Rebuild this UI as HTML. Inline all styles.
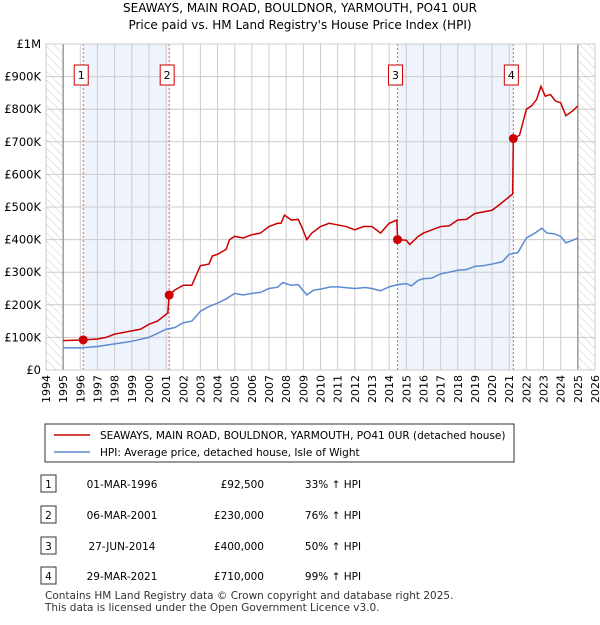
<!DOCTYPE html>
<html><head><meta charset="utf-8"><style>
body{margin:0;background:#fff;font-family:"Liberation Sans","DejaVu Sans",sans-serif;}
svg text{font-family:"DejaVu Sans","Liberation Sans",sans-serif;}
</style></head><body>
<svg id="c" width="600" height="620" xmlns="http://www.w3.org/2000/svg">
<defs><pattern id="hatch" width="6" height="6" patternUnits="userSpaceOnUse" patternTransform="rotate(-45)"><line x1="0" y1="0" x2="0" y2="6" stroke="#ccc" stroke-width="1"/></pattern></defs>
<text x="300" y="12" text-anchor="middle" font-size="12">SEAWAYS, MAIN ROAD, BOULDNOR, YARMOUTH, PO41 0UR</text>
<text x="300" y="29" text-anchor="middle" font-size="12">Price paid vs. HM Land Registry's House Price Index (HPI)</text>
<g id="plot"></g>
<g>
<rect x="45" y="424" width="469" height="38" fill="#fff" stroke="#333"/>
<line x1="54" y1="435" x2="90" y2="435" stroke="#cc0000" stroke-width="1.5"/>
<text x="100" y="439" font-size="10.5">SEAWAYS, MAIN ROAD, BOULDNOR, YARMOUTH, PO41 0UR (detached house)</text>
<line x1="54" y1="452" x2="90" y2="452" stroke="#5b8bd0" stroke-width="1.5"/>
<text x="100" y="456" font-size="10.5">HPI: Average price, detached house, Isle of Wight</text>
</g>
<g id="table" font-size="10.5"></g>
<text x="45" y="599" font-size="10.5" fill="#333">Contains HM Land Registry data © Crown copyright and database right 2025.</text>
<text x="45" y="611" font-size="10.5" fill="#333">This data is licensed under the Open Government Licence v3.0.</text>
</svg>
<script>
const yearTicks=[1994,1995,1996,1997,1998,1999,2000,2001,2002,2003,2004,2005,2006,2007,2008,2009,2010,2011,2012,2013,2014,2015,2016,2017,2018,2019,2020,2021,2022,2023,2024,2025,2026];
const priceTicks=[0,100,200,300,400,500,600,700,800,900,1000];
const priceTickLabels=["£0","£100K","£200K","£300K","£400K","£500K","£600K","£700K","£800K","£900K","£1M"];
const hpiT=[1995,1996,1997,1998,1999,2000,2001,2001.5,2002,2002.5,2003,2003.5,2004,2004.5,2005,2005.5,2006,2006.5,2007,2007.5,2007.8,2008.3,2008.7,2009.2,2009.6,2010,2010.6,2011,2011.6,2012,2012.6,2013,2013.5,2014,2014.5,2015,2015.3,2015.7,2016,2016.5,2017,2017.5,2018,2018.5,2019,2019.5,2020,2020.6,2021,2021.5,2022,2022.5,2022.9,2023.2,2023.6,2024,2024.3,2024.7,2025];
const hpiV=[68,68,72,80,88,100,125,130,145,150,180,195,205,218,235,230,235,238,250,254,268,260,262,230,245,248,255,255,252,250,253,250,243,255,262,265,258,275,280,282,295,300,306,308,318,320,325,332,355,360,405,420,435,420,418,410,390,398,405];
const priceT=[1995,1996.17,1997,1997.5,1998,1999,1999.5,2000,2000.5,2001.1,2001.18,2001.5,2002,2002.5,2003,2003.5,2003.7,2004,2004.5,2004.7,2005,2005.5,2006,2006.5,2007,2007.5,2007.7,2007.9,2008.3,2008.7,2008.9,2009.2,2009.5,2010,2010.5,2011,2011.5,2012,2012.5,2013,2013.5,2014,2014.45,2014.49,2015,2015.2,2015.7,2016,2016.5,2017,2017.5,2018,2018.5,2019,2019.5,2020,2020.5,2021.2,2021.24,2021.6,2022,2022.3,2022.6,2022.85,2023.1,2023.4,2023.7,2024,2024.3,2024.7,2025];
const priceV=[90,92.5,95,100,110,120,125,140,150,175,230,245,260,260,320,325,350,355,370,400,410,405,415,420,440,450,450,475,460,462,440,400,420,440,450,445,440,430,440,440,420,450,460,400,398,385,410,420,430,440,442,460,462,480,485,490,510,540,710,720,800,810,830,870,840,845,825,820,780,795,810];
const sales=[{n:"1",t:1996.17,v:92.5,date:"01-MAR-1996",price:"£92,500",pct:"33% ↑ HPI"},{n:"2",t:2001.18,v:230,date:"06-MAR-2001",price:"£230,000",pct:"76% ↑ HPI"},{n:"3",t:2014.49,v:400,date:"27-JUN-2014",price:"£400,000",pct:"50% ↑ HPI"},{n:"4",t:2021.24,v:710,date:"29-MAR-2021",price:"£710,000",pct:"99% ↑ HPI"}];
const X0=46,X1=595,Y0=370,Y1=44;
const xs=t=>X0+(t-1994)/32*(X1-X0);
const ys=v=>Y0-v/1000*(Y0-Y1);
const NS="http://www.w3.org/2000/svg";
const g=document.getElementById('plot');
function mk(tag,attrs,parent){const e=document.createElementNS(NS,tag);for(const k in attrs)e.setAttribute(k,attrs[k]);(parent||g).appendChild(e);return e;}
for(let i=0;i<4;i+=2){const r=mk('rect',{x:xs(sales[i].t),y:Y1,width:xs(sales[i+1].t)-xs(sales[i].t),height:Y0-Y1,fill:'#eef3fc'});

}
const h1=mk('rect',{x:X0,y:Y1,width:xs(1995)-X0,height:Y0-Y1,fill:'url(#hatch)'});


const h2=mk('rect',{x:xs(2025),y:Y1,width:X1-xs(2025),height:Y0-Y1,fill:'url(#hatch)'});


yearTicks.forEach(y=>{const l=mk('line',{x1:xs(y),x2:xs(y),y1:Y1,y2:Y0,stroke:'#ccc'});


const tx=xs(y)+4,ty=Y0+5;const t=mk('text',{x:tx,y:ty,'font-size':11,'text-anchor':'end',transform:`rotate(-90 ${tx} ${ty})`});t.textContent=y;

});
priceTicks.forEach((p,i)=>{const l=mk('line',{x1:X0,x2:X1,y1:ys(p),y2:ys(p),stroke:'#ccc'});


const t=mk('text',{x:41,y:ys(p)+4,'font-size':11.5,'text-anchor':'end'});t.textContent=priceTickLabels[i];

});
[1995,2025].forEach(y=>{const l=mk('line',{x1:xs(y),x2:xs(y),y1:Y1,y2:Y0,stroke:'#888','stroke-width':1.2});

});
sales.forEach(s=>{const l=mk('line',{x1:xs(s.t),x2:xs(s.t),y1:Y1,y2:Y0,stroke:'#e06060','stroke-dasharray':'2,2'});


const bx=xs(s.t)-9;const b=mk('rect',{x:bx,y:65,width:14,height:20,fill:'#fff',stroke:'#cc0000'});


const t=mk('text',{x:bx+7,y:79,'font-size':11,'text-anchor':'middle'});t.textContent=s.n;

});
const hp=mk('polyline',{points:hpiT.map((t,i)=>xs(t)+','+ys(hpiV[i])).join(' '),fill:'none',stroke:'#5b8bd0','stroke-width':1.5});


const pp=mk('polyline',{points:priceT.map((t,i)=>xs(t)+','+ys(priceV[i])).join(' '),fill:'none',stroke:'#cc0000','stroke-width':1.5});


sales.forEach(s=>{const c=mk('circle',{cx:xs(s.t),cy:ys(s.v),r:4.5,fill:'#cc0000'});

});
const fr=mk('rect',{x:X0,y:Y1,width:X1-X0,height:Y0-Y1,fill:'none',stroke:'#ccc'});


const tb=document.getElementById('table');
const rowY=[484,515,546,576];
sales.forEach((s,i)=>{const y=rowY[i];
const b=mk('rect',{x:41,y:y-9,width:15,height:17,fill:'#fff',stroke:'#333'},tb);


const cells=[[48.5,s.n,'middle'],[122,s.date,'middle'],[264,s.price,'end'],[333,s.pct,'middle']];
cells.forEach(c=>{const t=mk('text',{x:c[0],y:y+4,'text-anchor':c[2]},tb);t.textContent=c[1];

});});
</script>
</body></html>
